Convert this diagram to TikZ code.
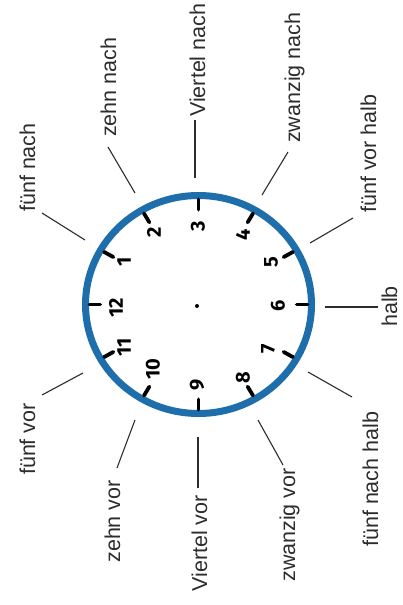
\documentclass[tikz,border=0pt]{standalone}
\usepackage{fontspec}
\setmainfont{Liberation Sans}
\newfontfamily\numfont{Fira Sans}
\definecolor{ringblue}{RGB}{30,110,172}
\definecolor{txtgray}{RGB}{45,45,45}
\begin{document}
\begin{tikzpicture}[x=1pt,y=-1pt,
  lbl/.style={rotate=90,inner sep=0pt,font=\fontsize{21.5}{24}\selectfont,text=txtgray},
  conn/.style={draw=txtgray,line width=1.1pt},
  num/.style={rotate=90,inner sep=0pt,font=\numfont\bfseries\fontsize{20}{22}\selectfont},
  hourtick/.style={line width=3.8pt,line cap=round}]
\useasboundingbox (0,0) rectangle (403,605);
\fill[white] (0,0) rectangle (403,605);

% clock ring
\coordinate (c) at (198.5,304.5);
\draw[ringblue,line width=7pt] (c) ellipse [x radius=113pt, y radius=109pt];

% hour ticks
\foreach \h in {1,...,12}{
  \draw[hourtick] ({198.5+113*0.87*cos(180-30*\h)},{304.5-109*0.87*sin(180-30*\h)})
     -- ({198.5+113*0.965*cos(180-30*\h)},{304.5-109*0.965*sin(180-30*\h)});
}

% centre dot
\fill (197,306) circle [radius=2pt];

% numbers
\node[num] (n12) at (116,308) {12};
\node[num] (n1) at (124,262) {1};
\node[num] (n2) at (154,232) {2};
\node[num] (n3) at (198,226) {3};
\node[num] (n4) at (243,235) {4};
\node[num] (n5) at (271,262) {5};
\node[num] (n6) at (278,306) {6};
\node[num] (n7) at (268,349) {7};
\node[num] (n8) at (243,378) {8};
\node[num] (n9) at (197,385) {9};
\node[num] (n10) at (153,369) {10};
\node[num] (n11) at (124,347) {11};

% labels
\node[lbl,anchor=base west] (l5) at (35,212) {fünf nach};
\node[lbl,anchor=base west] (l10) at (116,137) {zehn nach};
\node[lbl,anchor=base west] (l15) at (205,117) {Viertel nach};
\node[lbl,anchor=base west] (l20) at (300,143) {zwanzig nach};
\node[lbl,anchor=base west] (l25) at (376,213) {fünf vor halb};
\node[lbl,anchor=base west] (l30) at (397,327) {halb};
\node[lbl,anchor=base west] (l35) at (378,547) {fünf nach halb};
\node[lbl,anchor=base east] (l40) at (295,468) {zwanzig vor};
\node[lbl,anchor=base east] (l45) at (207,495) {Viertel vor};
\node[lbl,anchor=base east] (l50) at (120,480) {zehn vor};
\node[lbl,anchor=base east] (l55) at (35,403) {fünf vor};

% connector end points
\coordinate (a5) at (85,240);   \coordinate (b5) at (42,213);
\coordinate (a10) at (135,193); \coordinate (b10) at (108,147);
\coordinate (a15) at (195,178); \coordinate (b15) at (195,120);
\coordinate (a20) at (262,195); \coordinate (b20) at (288,152);
\coordinate (a25) at (310,243); \coordinate (b25) at (353,218);
\coordinate (a30) at (325,307); \coordinate (b30) at (378,307);
\coordinate (a35) at (308,372); \coordinate (b35) at (352,397);
\coordinate (a40) at (258,420); \coordinate (b40) at (283,465);
\coordinate (a45) at (198,437); \coordinate (b45) at (198,488);
\coordinate (a50) at (135,420); \coordinate (b50) at (117,468);
\coordinate (a55) at (83,373);  \coordinate (b55) at (42,395);

\foreach \m in {5,10,15,20,25,30,35,40,45,50,55}{
  \draw[conn] (a\m) -- (b\m);
}
\end{tikzpicture}
\end{document}
